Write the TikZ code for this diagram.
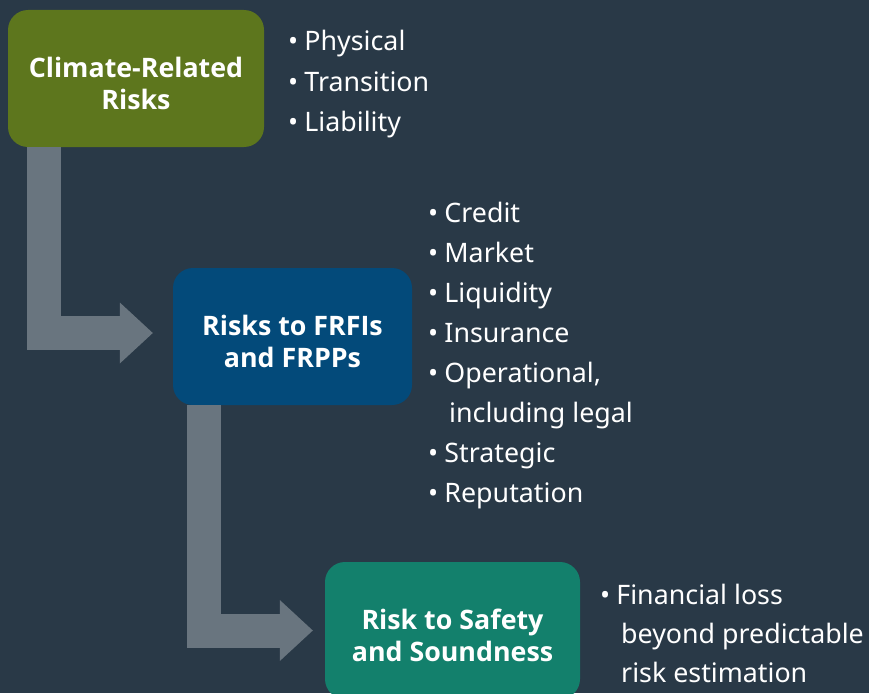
\documentclass[tikz,border=0pt]{standalone}
\usepackage{fontspec}
\setmainfont{Noto Sans}
\newfontfamily\boxfont{Open Sans}
\usetikzlibrary{arrows.meta}
\definecolor{bgc}{HTML}{293947}
\definecolor{greenc}{HTML}{5D761D}
\definecolor{bluec}{HTML}{034A7A}
\definecolor{tealc}{HTML}{13806C}
\definecolor{arrowc}{HTML}{69757F}
\tikzset{
  box/.style={rounded corners=20pt, inner sep=0pt, minimum height=137pt},
  boxtext/.style={inner sep=0pt, text=white, align=center,
    font=\boxfont\bfseries\fontsize{26.8}{32}\selectfont},
  flow/.style={draw=arrowc, line width=34pt, line cap=butt, line join=miter,
    -{Triangle[length=33pt,width=61pt,line width=0pt]}},
  item/.style={anchor=base west, inner sep=0pt, text=white,
    font=\fontsize{26.8}{32}\selectfont}
}
\begin{document}
\begin{tikzpicture}[x=1pt,y=-1pt]
\fill[bgc] (0,0) rectangle (869,693);
\useasboundingbox (0,0) rectangle (869,693);
\node[box, fill=greenc, minimum width=256pt] (green) at (136,78.5) {};
\node[box, fill=bluec, minimum width=239pt] (blue) at (292.5,336.5) {};
\node[box, fill=tealc, minimum width=255pt] (teal) at (452.5,630.5) {};
\node[boxtext] (greent) at ([yshift=-4.5pt]green.center) {Climate-Related\\Risks};
\node[boxtext] (bluet) at ([yshift=-4.5pt]blue.center) {Risks to FRFIs\\and FRPPs};
\node[boxtext] (tealt) at ([yshift=-5pt]teal.center) {Risk to Safety\\and Soundness};
\draw[flow] ([xshift=36pt]green.south west) |- ([xshift=-20pt,yshift=3.5pt]blue.west);
\draw[flow] ([xshift=31pt]blue.south west) |- ([xshift=-12pt]teal.west);
% list 1
\foreach \t [count=\i] in {Physical,Transition,Liability}
  \node[item] (l1-\i) at (288,11+40*\i) {•\hspace{0.23em}\t};
% list 2
\foreach \t [count=\i] in {Credit,Market,Liquidity,Insurance,{Operational,}}
  \node[item] (l2-\i) at (428,182+40*\i) {•\hspace{0.23em}\t};
\node[item] (l2-6) at (449,422) {including legal};
\node[item] (l2-7) at (428,462) {•\hspace{0.23em}Strategic};
\node[item] (l2-8) at (428,502) {•\hspace{0.23em}Reputation};
% list 3
\node[item] (l3-1) at (600,604) {•\hspace{0.23em}Financial loss};
\node[item] (l3-2) at (621,643) {beyond predictable};
\node[item] (l3-3) at (621,682) {risk estimation};
\end{tikzpicture}
\end{document}
